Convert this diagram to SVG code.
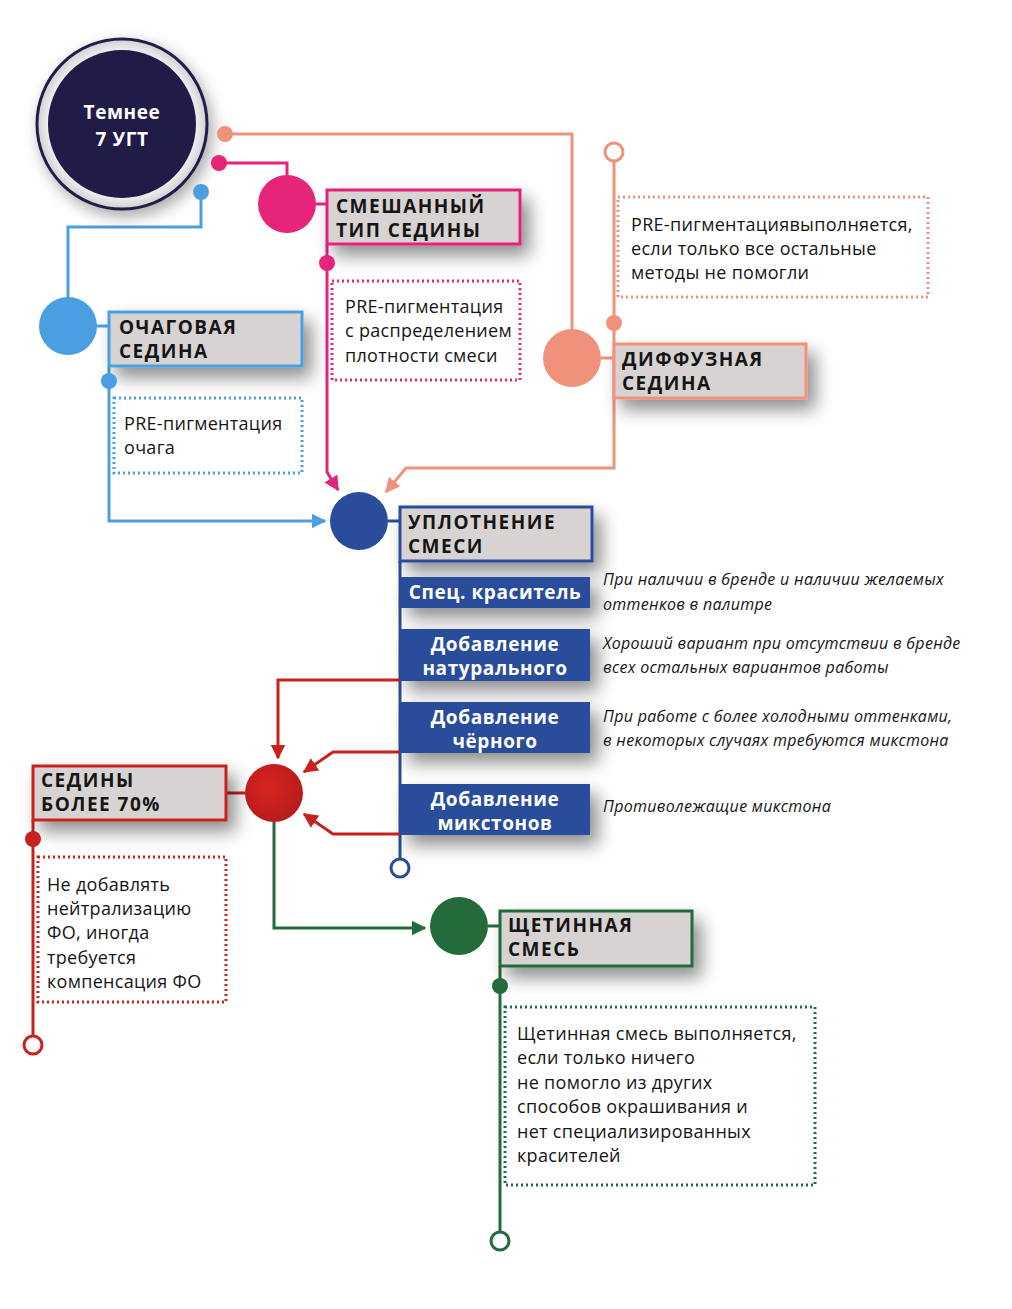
<svg xmlns="http://www.w3.org/2000/svg" width="1012" height="1309" viewBox="0 0 1012 1309">
<defs>
<filter id="sh" x="-30%" y="-40%" width="170%" height="220%">
<feGaussianBlur in="SourceAlpha" stdDeviation="9"/>
<feOffset dx="8" dy="10" result="b"/>
<feComponentTransfer><feFuncA type="linear" slope="0.45"/></feComponentTransfer>
<feMerge><feMergeNode/><feMergeNode in="SourceGraphic"/></feMerge>
</filter>
<filter id="shc" x="-50%" y="-50%" width="200%" height="200%">
<feGaussianBlur in="SourceAlpha" stdDeviation="8"/>
<feOffset dx="4" dy="6"/>
<feComponentTransfer><feFuncA type="linear" slope="0.35"/></feComponentTransfer>
<feMerge><feMergeNode/><feMergeNode in="SourceGraphic"/></feMerge>
</filter>
<radialGradient id="ring" cx="50%" cy="50%" r="50%">
<stop offset="0.8" stop-color="#ffffff"/>
<stop offset="1" stop-color="#cfcfd3"/>
</radialGradient>
<radialGradient id="redg" cx="40%" cy="40%" r="60%">
<stop offset="0" stop-color="#d8241f"/>
<stop offset="1" stop-color="#b81c1d"/>
</radialGradient>
<marker id="aPink" viewBox="0 0 10 10" refX="9" refY="5" markerWidth="5" markerHeight="5" orient="auto"><path d="M0,0 L10,5 L0,10 z" fill="#e5247a"/></marker>
<marker id="aSal" viewBox="0 0 10 10" refX="9" refY="5" markerWidth="5" markerHeight="5" orient="auto"><path d="M0,0 L10,5 L0,10 z" fill="#f0927b"/></marker>
<marker id="aBlue" viewBox="0 0 10 10" refX="9" refY="5" markerWidth="5" markerHeight="5" orient="auto"><path d="M0,0 L10,5 L0,10 z" fill="#4a9fe0"/></marker>
<marker id="aRed" viewBox="0 0 10 10" refX="9" refY="5" markerWidth="5" markerHeight="5" orient="auto"><path d="M0,0 L10,5 L0,10 z" fill="#c9211e"/></marker>
<marker id="aGreen" viewBox="0 0 10 10" refX="9" refY="5" markerWidth="5" markerHeight="5" orient="auto"><path d="M0,0 L10,5 L0,10 z" fill="#236b3a"/></marker>
</defs>
<style>
.ln{fill:none;stroke-width:3}
.hd{font-family:"Open Sans","DejaVu Sans",sans-serif;font-weight:bold;font-size:19px;fill:#151515;letter-spacing:1.5px}
.tx{font-family:"Open Sans","DejaVu Sans",sans-serif;font-size:18px;fill:#151515;letter-spacing:0.3px}
.it{font-family:"Open Sans","DejaVu Sans",sans-serif;font-style:italic;font-size:16px;fill:#151515;letter-spacing:0.3px}
.wb{font-family:"Open Sans","DejaVu Sans",sans-serif;font-weight:bold;font-size:19px;fill:#ffffff;text-anchor:middle;letter-spacing:0.6px}
.box{fill:#d8d3d3;stroke-width:3}
.dot{fill:none;stroke-width:3;stroke-dasharray:2 3}
.pink{stroke:#e5247a}.sal{stroke:#f0927b}.blue{stroke:#4a9fe0}.dblue{stroke:#2a4d9b}.red{stroke:#c9211e}.green{stroke:#236b3a}
</style>
<rect width="1012" height="1309" fill="#ffffff"/>

<g id="connectors">
<path class="ln sal" d="M225,134 H572 V330"/>
<path class="ln pink" d="M219,163 H287 V176"/>
<path class="ln blue" d="M201,192 V227 H68 V298"/>
<path class="ln pink" d="M316,204 H327"/>
<path class="ln pink" d="M327,244 V472 L338,490" marker-end="url(#aPink)"/>
<path class="ln sal" d="M601,358 H614"/>
<path class="ln sal" d="M614,161 V468 H406 L386,492" marker-end="url(#aSal)"/>
<path class="ln blue" d="M97,326 H109"/>
<path class="ln blue" d="M109,366 V521 H325" marker-end="url(#aBlue)"/>
<path class="ln dblue" d="M388,521 H400"/>
<path class="ln dblue" d="M400,561 V859"/>
<path class="ln red" d="M400,680 H278 V758" marker-end="url(#aRed)"/>
<path class="ln red" d="M400,752 H333 L304,772" marker-end="url(#aRed)"/>
<path class="ln red" d="M400,834 H333 L304,814" marker-end="url(#aRed)"/>
<path class="ln red" d="M226,793 H245"/>
<path class="ln red" d="M33,820 V1036"/>
<path class="ln green" d="M274,822 V928 H425" marker-end="url(#aGreen)"/>
<path class="ln green" d="M488,926 H500"/>
<path class="ln green" d="M500,966 V1232"/>
</g>

<g id="node-start">
<circle cx="122" cy="124" r="85" fill="url(#ring)" stroke="#211c47" stroke-width="3" filter="url(#shc)"/>
<circle cx="122" cy="124" r="74" fill="#211c47"/>
<text x="122" y="119" class="wb" font-size="20">Темнее</text>
<text x="122" y="146" class="wb" font-size="20">7 УГТ</text>
<circle cx="225" cy="134" r="8" fill="#f0927b"/>
<circle cx="219" cy="163" r="8" fill="#e5247a"/>
<circle cx="201" cy="192" r="8" fill="#4a9fe0"/>
</g>

<g id="node-mixed">
<circle cx="287" cy="204" r="29" fill="#e5247a"/>
<rect x="327" y="190" width="193" height="54" class="box pink" filter="url(#sh)"/>
<text x="336" y="213" class="hd">СМЕШАННЫЙ</text>
<text x="336" y="237" class="hd">ТИП СЕДИНЫ</text>
<circle cx="327" cy="263" r="8" fill="#e5247a"/>
<rect x="332" y="281" width="188" height="99" class="dot pink"/>
<text x="345" y="313" class="tx">PRE-пигментация</text>
<text x="345" y="337" class="tx">с распределением</text>
<text x="345" y="362" class="tx">плотности смеси</text>
</g>

<g id="node-diffuse">
<circle cx="572" cy="358" r="29" fill="#f0927b"/>
<rect x="614" y="344" width="192" height="54" class="box sal" filter="url(#sh)"/>
<text x="622" y="366" class="hd">ДИФФУЗНАЯ</text>
<text x="622" y="390" class="hd">СЕДИНА</text>
<circle cx="614" cy="152" r="9" fill="#ffffff" stroke="#f0927b" stroke-width="3"/>
<circle cx="614" cy="323" r="8" fill="#f0927b"/>
<rect x="618" y="197" width="310" height="100" class="dot sal"/>
<text x="631" y="231" class="tx">PRE-пигментациявыполняется,</text>
<text x="631" y="255" class="tx">если только все остальные</text>
<text x="631" y="279" class="tx">методы не помогли</text>
</g>

<g id="node-focal">
<circle cx="68" cy="326" r="29" fill="#4a9fe0"/>
<rect x="109" y="312" width="193" height="54" class="box blue" filter="url(#sh)"/>
<text x="119" y="334" class="hd">ОЧАГОВАЯ</text>
<text x="119" y="358" class="hd">СЕДИНА</text>
<circle cx="109" cy="381" r="8" fill="#4a9fe0"/>
<rect x="114" y="398" width="188" height="75" class="dot blue"/>
<text x="124" y="430" class="tx">PRE-пигментация</text>
<text x="124" y="454" class="tx">очага</text>
</g>

<g id="node-compact">
<circle cx="359" cy="521" r="29" fill="#2a4d9b"/>
<rect x="400" y="507" width="192" height="54" class="box dblue" filter="url(#sh)"/>
<text x="408" y="529" class="hd">УПЛОТНЕНИЕ</text>
<text x="408" y="553" class="hd">СМЕСИ</text>
<circle cx="400" cy="868" r="9" fill="#ffffff" stroke="#2a4d9b" stroke-width="3"/>
</g>

<g id="option-spec">
<rect x="400" y="577" width="190" height="31" fill="#2a4d9b" filter="url(#sh)"/>
<text x="495" y="599" class="wb">Спец. краситель</text>
<text x="603" y="585" class="it">При наличии в бренде и наличии желаемых</text>
<text x="603" y="610" class="it">оттенков в палитре</text>
</g>
<g id="option-natural">
<rect x="400" y="629" width="190" height="52" fill="#2a4d9b" filter="url(#sh)"/>
<text x="495" y="651" class="wb">Добавление</text>
<text x="495" y="675" class="wb">натурального</text>
<text x="603" y="649" class="it">Хороший вариант при отсутствии в бренде</text>
<text x="603" y="673" class="it">всех остальных вариантов работы</text>
</g>
<g id="option-black">
<rect x="400" y="702" width="190" height="51" fill="#2a4d9b" filter="url(#sh)"/>
<text x="495" y="724" class="wb">Добавление</text>
<text x="495" y="748" class="wb">чёрного</text>
<text x="603" y="722" class="it">При работе с более холодными оттенками,</text>
<text x="603" y="746" class="it">в некоторых случаях требуются микстона</text>
</g>
<g id="option-mixton">
<rect x="400" y="784" width="190" height="51" fill="#2a4d9b" filter="url(#sh)"/>
<text x="495" y="806" class="wb">Добавление</text>
<text x="495" y="830" class="wb">микстонов</text>
<text x="603" y="812" class="it">Противолежащие микстона</text>
</g>

<g id="node-70">
<circle cx="274" cy="793" r="29" fill="url(#redg)"/>
<rect x="33" y="766" width="193" height="54" class="box red" filter="url(#sh)"/>
<text x="41" y="787" class="hd">СЕДИНЫ</text>
<text x="41" y="811" class="hd">БОЛЕЕ 70%</text>
<circle cx="33" cy="839" r="8" fill="#c9211e"/>
<circle cx="33" cy="1045" r="9" fill="#ffffff" stroke="#c9211e" stroke-width="3"/>
<rect x="38" y="857" width="188" height="145" class="dot red"/>
<text x="47" y="891" class="tx">Не добавлять</text>
<text x="47" y="915" class="tx">нейтрализацию</text>
<text x="47" y="939" class="tx">ФО, иногда</text>
<text x="47" y="964" class="tx">требуется</text>
<text x="47" y="988" class="tx">компенсация ФО</text>
</g>

<g id="node-bristle">
<circle cx="459" cy="926" r="29" fill="#236b3a"/>
<rect x="500" y="911" width="192" height="55" class="box green" filter="url(#sh)"/>
<text x="508" y="932" class="hd">ЩЕТИННАЯ</text>
<text x="508" y="956" class="hd">СМЕСЬ</text>
<circle cx="500" cy="986" r="8" fill="#236b3a"/>
<circle cx="500" cy="1241" r="9" fill="#ffffff" stroke="#236b3a" stroke-width="3"/>
<rect x="505" y="1007" width="310" height="178" class="dot green"/>
<text x="517" y="1040" class="tx">Щетинная смесь выполняется,</text>
<text x="517" y="1064" class="tx">если только ничего</text>
<text x="517" y="1089" class="tx">не помогло из других</text>
<text x="517" y="1113" class="tx">способов окрашивания и</text>
<text x="517" y="1138" class="tx">нет специализированных</text>
<text x="517" y="1162" class="tx">красителей</text>
</g>
</svg>
